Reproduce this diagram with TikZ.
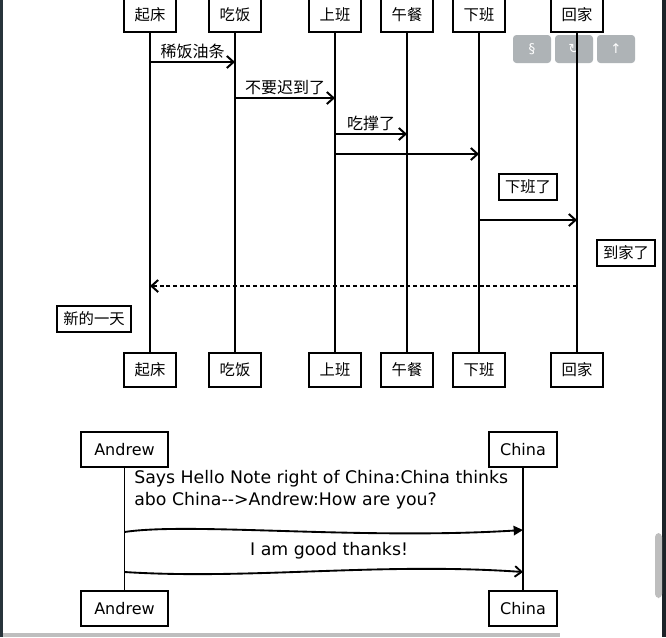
\documentclass[tikz,border=0pt]{standalone}
\usepackage{fontspec}
\setmainfont{Liberation Sans}
\newfontfamily\cjk{Noto Sans CJK SC}
\newfontfamily\symfont{DejaVu Sans}
\newfontfamily\handfont{DejaVu Sans}
\usetikzlibrary{arrows.meta,positioning}

\definecolor{btngray}{RGB}{174,179,182}
\definecolor{darkside}{RGB}{39,52,59}
\definecolor{barside}{RGB}{28,35,40}
\definecolor{scrollgray}{RGB}{190,190,190}

\tikzset{
  actor/.style={draw, line width=1.5pt, fill=white, minimum width=39pt,
    minimum height=26pt, inner sep=0pt, font=\cjk\fontsize{11.5}{13}\selectfont},
  memo/.style={draw, line width=1.5pt, fill=white, minimum height=19.5pt,
    inner xsep=4.5pt, inner ysep=0pt, font=\cjk\fontsize{11.5}{13}\selectfont},
  life/.style={line width=1.5pt},
  msg/.style={line width=1.5pt, -{Straight Barb[length=5pt,width=9pt]}},
  msglabel/.style={midway, above, inner sep=2pt, font=\cjk\fontsize{12}{14}\selectfont},
  btn/.style={fill=btngray, rounded corners=2.5pt, minimum width=28.5pt,
    minimum height=21pt, inner sep=0pt, text=white, font=\symfont\fontsize{10}{12}\selectfont},
  hactor/.style={draw, line width=1.4pt, fill=white, minimum height=26pt,
    inner sep=0pt, font=\handfont\fontsize{12}{14}\selectfont},
  hline/.style={line width=1.4pt},
  htext/.style={align=left, inner sep=0pt, font=\handfont\fontsize{13}{16.5}\selectfont},
}

\begin{document}
\begin{tikzpicture}[x=0.75pt, y=-0.75pt]

    \useasboundingbox (0,0) rectangle (666,637);
    \clip (0,0) rectangle (666,637);

    % 页面边框
    \fill[white] (0,0) rectangle (666,637);
    \fill[darkside] (0,0) rectangle (3,637);
    \fill[barside] (662,0) rectangle (666,637);
    \fill[scrollgray, rounded corners=3pt] (655,533) rectangle (662,598);
    \fill[scrollgray] (3,633) rectangle (560,637);

    % 工具按钮
    \node[btn] (bsec) at (532,49) {§};
    \node[btn] (bref) at (574,49) {↻};
    \node[btn] (btop) at (616,49) {↑};

    % --------------------------
    % 时序图一
    % --------------------------
    \node[actor] (qc) at (150,15) {起床};
    \node[actor] (cf) at (235,15) {吃饭};
    \node[actor] (sb) at (335,15) {上班};
    \node[actor] (wc) at (407,15) {午餐};
    \node[actor] (xb) at (479,15) {下班};
    \node[actor] (hj) at (577,15) {回家};

    \node[actor] (qcB) at (150,370) {起床};
    \node[actor] (cfB) at (235,370) {吃饭};
    \node[actor] (sbB) at (335,370) {上班};
    \node[actor] (wcB) at (407,370) {午餐};
    \node[actor] (xbB) at (479,370) {下班};
    \node[actor] (hjB) at (577,370) {回家};

    % 生命线
    \foreach \a in {qc,cf,sb,wc,xb,hj} {
        \draw[life] (\a.south) -- (\a B.north);
    }

    % 消息
    \draw[msg] (qc |- 0,62) -- (cf |- 0,62) node[msglabel] {稀饭油条};
    \draw[msg] (cf |- 0,98) -- (sb |- 0,98) node[msglabel] {不要迟到了};
    \draw[msg] (sb |- 0,134) -- (wc |- 0,134) node[msglabel] {吃撑了};
    \draw[msg] (sb |- 0,154) -- (xb |- 0,154);

    \node[memo] (nxb) at (528,187) {下班了};
    \draw[msg] (xb |- 0,220) -- (hj |- 0,220);

    \node[memo] (nhj) at (626,253) {到家了};
    \draw[msg, dash pattern=on 3pt off 2pt] (hj |- 0,286) -- (qc |- 0,286);

    \node[memo] (nxt) at (94,319) {新的一天};

    % --------------------------
    % 时序图二（手绘风格）
    % --------------------------
    \node[hactor, minimum width=65pt] (ad) at (124.5,449.5) {Andrew};
    \node[hactor, minimum width=51pt] (ch) at (523,449.5) {China};
    \node[hactor, minimum width=65pt] (adB) at (124.5,608.5) {Andrew};
    \node[hactor, minimum width=51pt] (chB) at (523,608.5) {China};

    \draw[hline] (ad.south) -- (adB.north);
    \draw[hline] (ch.south) -- (chB.north);

    \node[htext, anchor=north west] (say) at (134,470)
        {Says Hello Note right of China:China thinks\\
         abo China-{}->Andrew:How are you?};

    \draw[hline, -{Triangle[length=7pt,width=7pt]}]
        (ad |- 0,532) .. controls (190,522) and (360,540) .. (ch |- 0,530);
    \draw[hline, -{Straight Barb[length=5pt,width=8pt]}]
        (ad |- 0,572) .. controls (250,580) and (380,562) .. (ch |- 0,572)
        node[pos=0.53, above=5pt, font=\handfont\fontsize{13}{15}\selectfont] (ok) {I am good thanks!};

\end{tikzpicture}
\end{document}
